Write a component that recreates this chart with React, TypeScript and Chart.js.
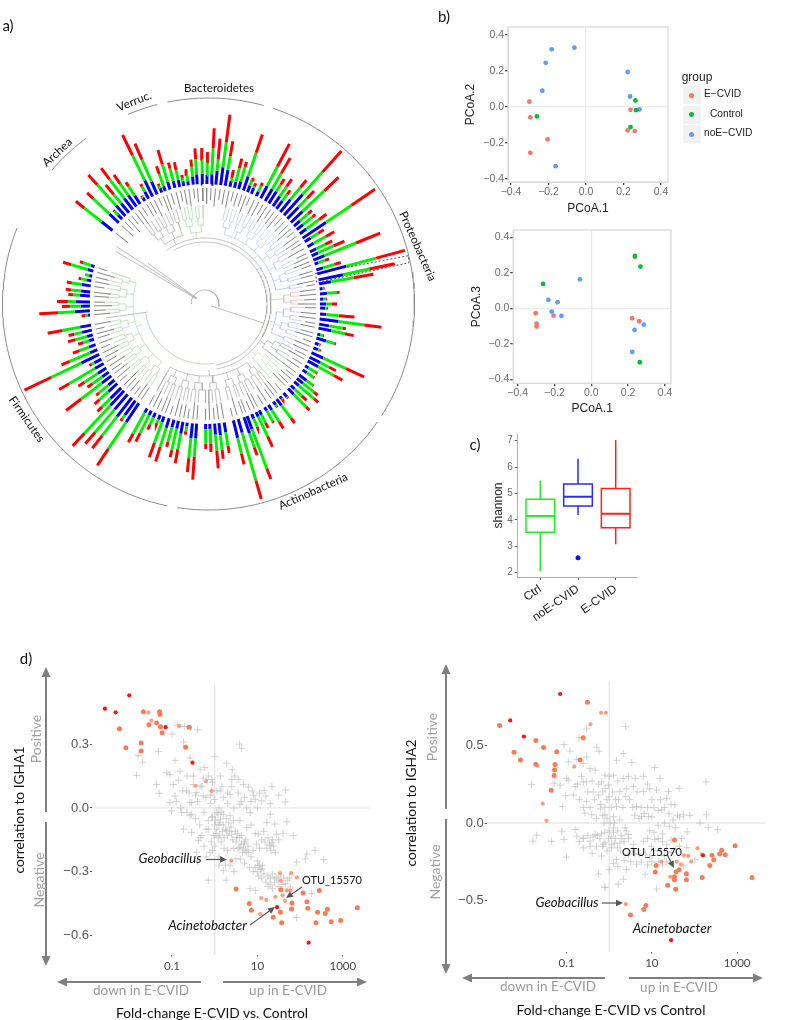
import React, { useEffect, useRef } from "react";
import { Chart, registerables } from "chart.js";
Chart.register(...registerables);

// ---------- panel a: circular tree with stacked bars ----------
const barAngles = [0.9,3,5.2,7.5,9.7,12,14.2,16.3,18.7,20.8,
  22.8,25.4,27.8,30.3,32.4,34.8,36.9,39.3,41.7,44,
  46.5,48.8,51,53.5,56,58,60.8,63.6,65.7,68,
  70,73,75,78,80,82.5,85,87.6,90,92,
  95,97.5,100,102,105,107,109.6,112,114.6,117,
  119,121.7,124,127,129,131,133.5,135.5,138.6,141,
  143,145,147.8,150,153,154.7,157,159.4,161,163.9,
  166.3,170.8,173.3,175.4,177.7,179.7,184,186,188.5,190.6,
  192.8,195,197.4,200,202,204.5,206.7,209,213.7,215.8,
  218,220.6,223,225,227.8,230,232.5,234.7,237,239.6,
  242,244.5,247,249.6,252.4,254.6,257,259.5,264.5,266.6,
  269,271,274,276,279,281.5,283.8,286.4,288.7,308.5,
  313.3,315.7,317.9,320.2,322.6,324.8,327,329.7,331.8,334,
  336.4,338.8,340.6,343,345.5,347.8,349.8,352,354.4,356.3,358.8];
const blueLen = [9,10,14,18,16,6,6,8,15,7,
  6,5,14,14,14,12,10,16,28,16,
  16,8,8,8,28,7,7,7,7,12,
  4,7,30,25,12,3,7,3,6,5,
  6,19,10,13,3,10,4,5,13,12,
  12,4,5,9,8,6,5,8,5,3,
  8,4,6,4,5,5,5,14,17,14,
  18,10,12,11,5,5,15,15,4,12,
  8,8,10,6,5,5,5,5,23,18,
  24,20,20,15,12,8,12,8,10,10,
  8,20,8,7,5,6,10,11,2,15,
  9,14,10,9,9,5,3,6,4,14,
  13,6,14,12,14,14,10,4,8,18,
  14,5,5,8,7,7,5,4,8,10,10];
const greenLen = [13,26,11,25,14,3,14,15,25,6,
  2,6,22,18,8,12,8,16,30,12,
  30,11,12,16,31,9,14,10,17,34,
  7,12,31,27,23,1,10,3,6,2,
  13,26,14,14,3,9,1,2,25,10,
  18,9,8,8,14,20,10,18,1,1,
  16,2,14,12,9,22,9,42,15,50,
  16,14,15,16,15,15,18,20,5,16,
  22,15,20,22,4,8,20,24,32,4,
  24,30,38,12,12,12,26,12,16,30,
  3,33,22,10,6,12,8,18,3,17,
  11,8,7,10,10,5,3,17,8,22,
  22,5,28,12,24,14,11,1,6,28,
  24,2,13,18,13,10,3,7,10,15,15];
const barTips = [152,176,166,191,165,137,150,148,179,135,
  131,134,181,169,148,152,142,160,205,157,
  184,142,142,151,205,140,148,142,153,189,
  132,142,207,194,171,120,135,120,132,122,
  150,178,143,152,122,137,120,123,175,147,
  157,132,132,135,145,150,140,149,124,123,
  149,124,147,137,139,158,133,187,160,203,
  165,151,156,165,148,145,176,169,132,162,
  157,148,165,163,130,138,154,158,194,144,
  183,184,194,152,149,142,175,144,151,169,
  131,200,156,141,133,142,140,160,124,166,
  143,148,137,140,140,129,121,148,132,165,
  162,131,174,155,171,158,145,122,136,188,
  175,129,146,161,146,145,131,136,145,156,156];
const labelLens = [16,12,18,11,15,17,10,14,13,18,9,16];
const cladeFrom = [322,345,12,82,91,115,128,141,212];
const cladeTo = [345,360,82,91,115,128,141,212,292];
const cladeColors = ["#a8a8a8","#a5d5a5","#b8c2f2","#f2b0b0","#b8c2f2","#a8a8a8","#b9e8aa","#a8a8a8","#acd4ac"];
const arcFrom = [-35,-30,105,170];
const arcTo = [120,170,170,262];
const arcRadii = [66,62,66,60];
const arcTints = ["#a8a8a8","#a8a8a8","#a8a8a8","#acc2ac"];
const stemAngles = [108,300.5,303,305.5,262];
const stemInner = [6,10,10,10,58];
const stemOuter = [62,103,106,70,100];
const phylumFrom = [348.5,337,310.5,191.5,124.9,18.2];
const phylumTo = [375.6,345.6,323.5,291.7,188.7,122.8];
const boxDx = [110.7,203.3,204,111.7,110.7];
const boxDy = [30.7,48.3,41.3,21.3,30.7];

// ---------- panel b ----------
const eCvidX = [-0.302,-0.297,-0.205,-0.297,0.237,0.222,0.26];
const eCvidY2 = [0.028,-0.059,-0.181,-0.256,-0.017,-0.131,-0.135];
const eCvidY3 = [-0.028,-0.086,-0.041,-0.103,0.289,-0.056,-0.073];
const controlX = [-0.262,0.263,0.267,0.237];
const controlY2 = [-0.054,0.035,-0.019,-0.113];
const controlY3 = [0.137,-0.304,0.235,0.295];
const noEX = [-0.062,-0.183,-0.215,-0.233,-0.162,0.222,0.235,0.285];
const noEY2 = [0.328,0.319,0.244,0.089,-0.33,0.193,0.057,-0.015];
const noEY3 = [0.163,0.034,-0.019,0.047,-0.043,-0.246,-0.122,-0.092];
const pcoaTicks = [-0.4,-0.2,0,0.2,0.4];
const groupNames = ["E\u2212CVID","Control","noE\u2212CVID"];
const groupColors = ["#F8766D","#00BA38","#619CFF"];

// ---------- panel c ----------
const boxCategories = ["Ctrl","noE-CVID","E-CVID"];
const boxColors = ["#22ee22","#2a2aff","#ff2020"];
const whiskerLow = [2.08,4.21,3.11];
const q1s = [3.53,4.53,3.7];
const medians = [4.15,4.88,4.23];
const q3s = [4.78,5.36,5.19];
const whiskerHigh = [5.45,6.29,7.0];
const outlierX = [2];
const outlierY = [2.57];
const shannonTicks = [2,3,4,5,6,7];

// ---------- panel d (x is log10 fold-change) ----------
const leftGray: number[][] = [[.58,.30],[.63,.28],[0,.243],[.28,.21],[.41,.18],[-.23,.19],[-.34,.18],[.13,.15],[.4,.134],[.55,.134],[-.07,.134],[-.27,.14],[.67,.11],[.79,.098],[1.34,.1],[1.66,.084],[1.16,.083],[.91,.06],[1.2,.056],[1.65,.028],[1.1,.033],[.59,.017],[.95,.04],[-.07,.08],[.13,.08],[.36,.064],[-.27,.056],[-.42,.072],[-.58,.025],[-.54,-.03],[.83,-.022],[1.3,-.03],[1.69,-.065],[1.22,-.069],[1.41,-.076],[1.84,-.13],[1.45,-.123],[1.02,-.123],[1.34,-.162],[1.3,-.178],[.75,-.092],[.59,-.06],[.36,-.037],[.2,-.03],[.05,-.022],[-.07,-.045],[.13,-.053],[.28,-.107],[.4,-.123],[.52,-.139],[.67,-.193],[.75,-.209],[.59,-.185],[1.02,-.271],[1.1,-.287],[1.3,-.333],[1.41,-.326],[1.65,-.357],[1.77,-.372],[2.16,-.217],[2.35,-.2],[2.55,-.243],[1.92,-.255],[2.12,-.24],[.2,-.294],[.36,-.27],[-.15,-.34],[.27,-.34],[.83,-.38],[.95,-.388],[1.92,-.516],[2.27,-.403],[-.11,-.209],[-.34,-.139],
[-.87,.388],[-.7,.383],[-1.0,.347],[-.4,.368],[-.73,.31],[-1.32,.266],[-1.79,.246],[-1.69,.215],[-1.83,.153],[-.93,.224],[-.58,.235],[-1.12,.165],[-.81,.173],[-1.36,.11],[-1.3,.069],[-1.05,.157],[-.97,.11],[-.93,.056],[-1.05,.025],[-1.01,-.014],[-.77,-.022],[-.58,-.037],[-.54,.025],[-.73,-.1],[-.54,-.115],[-.42,-.209],[-.38,-.154],[-.34,.103],[-.5,.11],[-.66,.08],
[-.2,.05],[-.1,.02],[-.25,-.02],[-.15,-.06],[-.05,-.04],[.02,-.06],[.08,-.03],[.1,-.08],[.15,-.02],[.05,-.1],[-.02,-.13],[.12,-.13],[.2,-.08],[.25,-.1],[.3,-.13],[.35,-.11],[.42,-.15],[.5,-.16],[.55,-.19],[.62,-.17],[.7,-.16],[.72,-.2],[.78,-.18],[.65,-.21],[.45,-.19],[.5,-.24],[.3,-.2],[.9,-.2],[1.0,-.25],[1.05,-.27],[1.08,-.29],[1.12,-.27],[.95,-.28],[1.15,-.31],[1.25,-.32],[1.35,-.31],[1.4,-.35],[1.5,-.34],[1.6,-.36],[1.35,-.15],[1.28,-.17],[1.38,-.18],[1.25,-.14],[1.15,-.11],[.95,-.12],[.85,-.08],[.3,.02],[.2,.05],[.45,.0],[.55,.07],[.7,.05],[.85,.03],[.4,.1],[.05,.08],[-.05,.12],[-.4,.03],[-.45,.06],[-.6,.07],[-.3,.1],[-.15,.15],[-.5,.15],[-.65,.15],[-.75,.08],[-.85,.13],[-.9,.03],[-.8,.0],[-.65,-.02],[-.45,-.05],[-.35,-.08],[-.3,-.13],[-.25,-.18],[-.4,-.25],[-.2,-.23],[-.05,-.2],[.1,-.23],[.25,-.27],[.45,-.3],
[.0,-.08],[.03,-.12],[.08,-.14],[.12,-.07],[.18,-.11],[.22,-.14],[.27,-.05],[.33,-.07],[.38,-.09],[.44,-.06],[.48,-.11],[.53,-.12],[.58,-.14],[.63,-.13],[.68,-.17],[.73,-.15],[.8,-.21],[.85,-.23],[.6,-.24],[.7,-.26],[.82,-.28],[.9,-.3],[1.0,-.3],[1.03,-.32],[1.1,-.33],[1.2,-.35],[1.25,-.37],[1.3,-.36],[1.45,-.33],[1.55,-.32],[1.62,-.33],[1.7,-.34],[1.75,-.33],[1.5,-.37],[1.35,-.38],[1.22,-.19],[1.32,-.2],[1.42,-.21],[1.18,-.16],[1.1,-.15],[1.05,-.19],[.98,-.17],[1.5,-.15],[1.6,-.12],[-.1,.06],[0,.04],[.1,.0],[.17,.1],[.3,.07],[.47,.15],[.62,.03],[.75,.0],[.88,.08],[1.0,.0],[1.05,.07],[1.3,.02],[1.5,.06],[-.15,-.1],[-.08,-.16],[.0,-.18],[.15,-.16],[.22,-.19],[.1,-.27],[-.2,-.1]];
const leftOrange: number[][] = [[-1.67,.452],[-1.29,.453],[-1.28,.44],[-1.36,.4],[-1.54,.391],[-1.27,.382],[-.6,.379],[-1.23,.354],[-2.23,.372],[-1.72,.305],[-2.08,.283],[-1.72,.268],[-.68,.285],[.5,-.382],[.81,-.45],[.86,-.481],[1.37,-.514],[1.54,-.491],[1.57,-.54],[1.55,-.385],[1.81,-.447],[1.8,-.475],[2.07,-.4],[2.45,-.388],[2.16,-.441],[2.18,-.472],[2.41,-.491],[2.64,-.477],[2.59,-.497],[2.73,-.536],[2.95,-.53],[2.37,-.54],[3.34,-.47]];
const leftLight: number[][] = [[-1.55,.45],[-1.48,.411],[-.83,.386],[-.45,.104],[-.58,.378],[-.2,.126],[-.07,.08],[.39,-.248],[1.09,-.424],[1.21,-.433],[1.07,-.5],[1.42,-.419],[1.53,-.307],[1.79,-.307],[1.92,-.327],[1.55,-.343],[1.59,-.411],[1.69,-.388],[1.77,-.388],[1.65,-.438]];
const leftRed: number[][] = [[-2.57,.467],[-2.0,.53],[-2.32,.45],[-1.15,.38],[-.52,.213],[1.46,-.467],[2.2,-.634]];
const rightGray: number[][] = [[-1.82,.248],[-1.06,.505],[-.92,.463],[-.29,.488],[-.24,.461],[-.71,.548],[-.53,.605],[-.53,.425],[-.96,.393],[-.76,.41],[-.61,.382],[-1,.287],[-.96,.276],[-1.15,.244],[-1.29,.255],[-1.02,.176],[-.84,.18],[-.8,.234],[-.61,.265],[-.53,.265],[-.45,.35],[-.33,.34],[-.18,.265],[-.1,.223],[-.37,.2],[-.25,.18],[-.53,.138],[-1.09,.106],[-.41,.053],[-.1,.053],[-.57,.064],[-1.79,-.117],[-1.7,-.079],[-1.35,-.117],[-1.11,-.053],[-1.06,-.106],[-.8,-.042],[-.76,-.085],[-.61,-.096],[-.45,-.117],[-.33,-.074],[-.14,-.138],[-.61,-.16],[-.4,-.195],[-.18,-.212],[-1,-.219],[-.25,-.329],[-.1,-.414],
[.39,.62],[.33,.446],[.17,.403],[.53,.389],[1.07,.357],[2.27,.265],[1.64,.223],[1.19,.287],[.61,.287],[.33,.287],[.1,.308],[-.1,.308],[-.02,.244],[.25,.202],[.57,.234],[.8,.202],[1.11,.212],[1.39,.202],[1.35,.159],[1.54,.117],[1.23,.085],[.64,.106],[.17,.106],[.76,.042],[.92,.042],[1.74,.053],[1.89,.049],[2.28,.053],[2.13,0],[2.32,-.028],[2.54,-.042],[1.83,-.057],[1.41,-.021],[1.15,-.015],[.1,-.032],[.37,-.032],[.45,-.074],[.06,-.138],[-.1,-.127],[.17,-.234],[.64,-.265],[.84,-.329],[1.11,-.425],[.33,-.361],[.21,-.393],[-.1,-.414],[1.07,-.106],[.8,-.117],[.57,-.138],[.99,-.149],[1.82,-.159],[2.01,-.234],[1.74,-.276],
[-.2,.12],[-.05,.15],[.05,.1],[.15,.15],[-.15,.05],[-.05,.03],[.1,.04],[.25,.02],[-.3,.03],[-.45,.1],[-.6,.1],[-.7,.15],[-.35,.15],[-.25,.25],[.2,-.05],[.28,-.08],[.3,-.1],[.1,-.06],[.35,-.12],[.4,-.05],[.45,-.1],[.15,-.1],[.25,-.13],[.05,-.16],[-.05,-.18],[-.15,-.15],[-.3,-.15],[-.45,-.15],[-.6,-.1],[-.7,-.12],[-.5,-.08],[.45,-.2],[.35,-.24],[.55,-.18],[.7,-.2],[.85,-.2],[.95,-.22],[1.05,-.18],[1.2,-.18],[1.3,-.21],[1.45,-.19],[1.55,-.17],[.9,-.1],[.75,-.25],[.75,.1],[.9,.1],[.55,.1],[.65,.2],[.4,.22],[.9,.25],[1.2,.15],[1.45,.12],[1.6,.05],[1.65,.04],[1.0,.04],[1.3,.0],[1.55,-.03],[1.25,-.07],
[.0,-.05],[.05,-.09],[.12,-.13],[.2,-.16],[.27,-.18],[-.1,-.06],[-.02,-.1],[-.18,-.07],[-.22,-.1],[-.28,-.08],[-.38,-.09],[.02,.0],[.12,.0],[-.12,.0],[-.2,.09],[-.1,.1],[0,.17],[.08,.2],[.22,.15],[.32,.1],[.38,.17],[.48,.15],[.6,.05],[.7,.03],[.82,.06],[1.0,.15],[1.05,.1],[1.15,.08],[1.3,.1],[1.4,.06],[1.5,.02],[.95,-.05],[1.05,-.06],[1.15,-.1],[1.25,-.12],[1.35,-.14],[1.45,-.11],[1.65,-.15],[1.7,-.1],[1.0,-.25],[1.15,-.25],[1.25,-.27],[1.35,-.25],[.9,-.27],[.6,-.2],[.5,-.25],[.4,-.3],[.2,-.28],[.1,-.26],[0,-.3],[.45,.3],[.2,.27],[.0,.3],[-.15,.2],[-.4,.27],[-.5,.2],[-.65,.3],[-.75,.25],[.8,.3],[.95,.22]];
const rightOrange: number[][] = [[-2.57,.628],[-.51,.777],[-.61,.548],[-1.72,.531],[-1.54,.486],[-1.23,.459],[-2.23,.456],[-2.08,.406],[-1.72,.378],[-1.27,.376],[-1.28,.342],[-1.29,.306],[-.68,.406],[-1.36,.21],[1.53,-.11],[2.95,-.146],[2.41,-.208],[2.64,-.176],[2.59,-.2],[2.72,-.204],[2.45,-.238],[2.36,-.274],[1.1,-.274],[1.08,-.316],[1.64,-.301],[1.57,-.314],[1.81,-.327],[1.81,-.365],[2.18,-.35],[3.35,-.35],[1.53,-.346],[1.53,-.365],[1.37,-.401],[1.56,-.427],[.5,-.592],[.81,-.556],[.86,-.531]];
const rightLight: number[][] = [[-.19,.709],[-.08,.709],[-.44,.635],[-1.68,.369],[-.82,.363],[-1.56,.125],[-1.47,.015],[2.07,-.163],[2.17,-.202],[1.75,-.208],[1.85,-.212],[1.68,-.268],[1.58,-.248],[1.92,-.248],[1.22,-.248],[1.43,-.346],[.39,-.522]];
const rightRed: number[][] = [[-2.32,.66],[-1.15,.83],[-2,.556],[2.2,-.208],[1.45,-.754]];
const foldTicks = [-1,1,3];
const foldLabels = ["0.1","10","1000"];
const leftCorrTicks = [0.3,0,-0.3,-0.6];
const rightCorrTicks = [0.5,0,-0.5];

// ---------- helpers ----------
const SANS = "'Liberation Sans', Arial, sans-serif";
const CAL = "Lato, 'Open Sans', sans-serif";
const GAP = { x: NaN, y: NaN };
const rad = (d: number) => (d * Math.PI) / 180;
const polar = (a: number, r: number, ox = 0) => ({ x: ox + r * Math.sin(rad(a)), y: r * Math.cos(rad(a)) });
const baseRadius = (a: number) => 115 + 5 * Math.abs(Math.cos(rad(a)));
const seg = (a: number, r0: number, r1: number) => [polar(a, r0), polar(a, r1), GAP];
const arc = (a0: number, a1: number, r: number, ox = 0) => {
  const pts = [];
  for (let a = a0; a < a1; a += 1.5) pts.push(polar(a, r, ox));
  pts.push(polar(a1, r, ox), GAP);
  return pts;
};
const lineDs = (data: any[], color: string, width: number, extra: any = {}) => ({
  type: "scatter", data, showLine: true, pointRadius: 0, borderColor: color, borderWidth: width,
  borderCapStyle: "butt", spanGaps: false, ...extra,
});
const ptsOf = (xs: number[], ys: number[]) => xs.map((x, i) => ({ x, y: ys[i] }));
const pairs = (a: number[][]) => a.map(([x, y]) => ({ x, y }));

function PlotCanvas({ box, build }: { box: any; build: (b: any) => any }) {
  const ref = useRef<HTMLCanvasElement>(null);
  useEffect(() => {
    const c = new Chart(ref.current as any, build(box));
    return () => c.destroy();
  }, []);
  return (
    <canvas ref={ref} width={box.W} height={box.H}
      style={{ position: "absolute", left: box.L, top: box.T, width: box.W, height: box.H }} />
  );
}

const baseOptions = (b: any) => ({
  responsive: false, animation: false, devicePixelRatio: 1,
  layout: { padding: { top: b.pT - b.T, right: b.L + b.W - b.pR, left: 0, bottom: 0 } },
  plugins: { legend: { display: false }, tooltip: { enabled: false } },
});
const fixX = (b: any) => (s: any) => { s.height = b.T + b.H - b.pB; };
const fixY = (b: any) => (s: any) => { s.width = b.pL - b.L; };
const setTicks = (vals: number[]) => (s: any) => { s.ticks = vals.map((value) => ({ value })); };
const minus = (t: string) => t.replace("-", "\u2212");

// ---------- panel a config ----------
function buildTree(b: any) {
  const blue: any[] = [], green: any[] = [], red: any[] = [], labels: any[] = [];
  const tree: Record<string, any[]> = {};
  const add = (color: string, pts: any[]) => { (tree[color] = tree[color] || []).push(...pts); };
  barAngles.forEach((a, i) => {
    const b0 = baseRadius(a);
    const bE = b0 + blueLen[i];
    const gE = bE + greenLen[i];
    blue.push(...seg(a, b0, bE));
    green.push(...seg(a, bE, gE));
    red.push(...seg(a, gE, Math.max(barTips[i], gE + 1)));
    const lTop = b0 - 4;
    labels.push(...seg(a, lTop, lTop - labelLens[i % labelLens.length]));
  });
  cladeFrom.forEach((from, k) => {
    const to = cladeTo[k];
    const color = cladeColors[k];
    const leaves = barAngles.filter((a) => a >= from && a < to);
    const pairMids: number[] = [];
    for (let i = 0; i < leaves.length; i += 2) {
      const a0 = leaves[i];
      const a1 = leaves[Math.min(i + 1, leaves.length - 1)];
      add(color, seg(a0, 86, 99));
      add(color, seg(a1, 86, 99));
      add(color, arc(a0, a1, 86));
      pairMids.push((a0 + a1) / 2);
    }
    const groupMids: number[] = [];
    for (let i = 0; i < pairMids.length; i += 2) {
      const a0 = pairMids[i];
      const a1 = pairMids[Math.min(i + 1, pairMids.length - 1)];
      add(color, seg(a0, 79, 86));
      add(color, seg(a1, 79, 86));
      add(color, arc(a0, a1, 79));
      groupMids.push((a0 + a1) / 2);
    }
    groupMids.forEach((a) => add(color, seg(a, 72, 79)));
    if (groupMids.length) {
      add(color, arc(groupMids[0], groupMids[groupMids.length - 1], 72));
      add(color, seg((groupMids[0] + groupMids[groupMids.length - 1]) / 2, 66, 72));
    }
  });
  arcFrom.forEach((a0, i) => add(arcTints[i], arc(a0, arcTo[i], arcRadii[i])));
  stemAngles.forEach((a, i) => add("#a0a0a0", seg(a, stemInner[i], stemOuter[i])));
  add("#a0a0a0", arc(-90, 100, 14));
  const phyla: any[] = [];
  phylumFrom.forEach((a0, i) => phyla.push(...arc(a0, phylumTo[i], 206, 3.5)));
  return {
    type: "scatter",
    data: {
      datasets: [
        lineDs(ptsOf(boxDx, boxDy), "#222222", 0.8, { borderDash: [2, 2] }),
        lineDs(red, "#ff0000", 3),
        lineDs(green, "#00ee00", 3),
        lineDs(blue, "#0000ee", 3),
        lineDs(labels, "#858585", 1),
        ...Object.keys(tree).map((c) => lineDs(tree[c], c, 0.7)),
        lineDs(phyla, "#8a8a8a", 1),
      ],
    },
    options: {
      ...baseOptions(b),
      layout: { padding: 0 },
      scales: {
        x: { display: false, type: "linear", min: -205, max: 235 },
        y: { display: false, type: "linear", min: -226, max: 304 },
      },
    },
  };
}

// ---------- panel b config ----------
function buildPcoa(yE: number[], yC: number[], yN: number[], xr: number[], yr: number[], yTitle: string) {
  return (b: any) => ({
    type: "scatter",
    data: {
      datasets: [
        { data: ptsOf(controlX, yC), backgroundColor: groupColors[1], pointRadius: 2.4, borderWidth: 0 },
        { data: ptsOf(noEX, yN), backgroundColor: groupColors[2], pointRadius: 2.4, borderWidth: 0 },
        { data: ptsOf(eCvidX, yE), backgroundColor: groupColors[0], pointRadius: 2.4, borderWidth: 0 },
      ],
    },
    options: {
      ...baseOptions(b),
      scales: {
        x: {
          type: "linear", min: xr[0], max: xr[1], afterFit: fixX(b), afterBuildTicks: setTicks(pcoaTicks),
          grid: { color: (c: any) => (c.tick.value === 0 ? "#ebebeb" : "transparent"), lineWidth: 1.3, tickColor: "#444", tickLength: 3, drawTicks: true },
          border: { color: "#dddddd", width: 1 },
          ticks: { autoSkip: false, maxRotation: 0, padding: 1, color: "#6a6a6a", font: { family: SANS, size: 10.5 }, callback: (v: number) => minus(v.toFixed(1)) },
          title: { display: true, text: "PCoA.1", color: "#222", font: { family: SANS, size: 12 }, padding: 0 },
        },
        y: {
          type: "linear", min: yr[0], max: yr[1], afterFit: fixY(b), afterBuildTicks: setTicks(pcoaTicks),
          grid: { color: (c: any) => (c.tick.value === 0 ? "#ebebeb" : "transparent"), lineWidth: 1.3, tickColor: "#444", tickLength: 3, drawTicks: true },
          border: { color: "#dddddd", width: 1 },
          ticks: { autoSkip: false, padding: 1, color: "#6a6a6a", font: { family: SANS, size: 10.5 }, callback: (v: number) => minus(v.toFixed(1)) },
          title: { display: true, text: yTitle, color: "#222", font: { family: SANS, size: 12 }, padding: 0 },
        },
      },
    },
    plugins: [{
      id: "frame",
      afterDraw(c: any) {
        const { left, top, width, height } = c.chartArea;
        c.ctx.save();
        c.ctx.strokeStyle = "#dcdcdc";
        c.ctx.lineWidth = 1.4;
        c.ctx.strokeRect(left, top, width, height);
        c.ctx.restore();
      },
    }],
  });
}

// ---------- panel c config ----------
function buildBoxes(b: any) {
  const hw = 0.38;
  const datasets: any[] = [];
  boxCategories.forEach((_, i) => {
    const x = i + 1;
    const color = boxColors[i];
    datasets.push(lineDs([{ x: x - hw, y: medians[i] }, { x: x + hw, y: medians[i] }], color, 2));
    datasets.push(lineDs([
      { x: x - hw, y: q1s[i] }, { x: x + hw, y: q1s[i] }, { x: x + hw, y: q3s[i] },
      { x: x - hw, y: q3s[i] }, { x: x - hw, y: q1s[i] }, GAP,
      { x, y: whiskerLow[i] }, { x, y: q1s[i] }, GAP,
      { x, y: q3s[i] }, { x, y: whiskerHigh[i] },
    ], color, 1.5, { borderCapStyle: "square" }));
  });
  datasets.push({ data: ptsOf(outlierX, outlierY), backgroundColor: "#1010ff", pointRadius: 2.5, borderWidth: 0 });
  return {
    type: "scatter",
    data: { datasets },
    options: {
      ...baseOptions(b),
      scales: {
        x: {
          type: "linear", min: 0.4, max: 3.584, afterFit: fixX(b), afterBuildTicks: setTicks([1, 2, 3]),
          grid: { drawOnChartArea: false, tickColor: "#555", tickLength: 3 },
          border: { color: "#b0b0b0", width: 1 },
          ticks: { autoSkip: false, minRotation: 35, maxRotation: 35, padding: 2, color: "#222", font: { family: SANS, size: 12 }, callback: (v: number) => boxCategories[v - 1] },
        },
        y: {
          type: "linear", min: 1.837, max: 7.254, afterFit: fixY(b), afterBuildTicks: setTicks(shannonTicks),
          grid: { drawOnChartArea: false, tickColor: "#555", tickLength: 3 },
          border: { color: "#b0b0b0", width: 1 },
          ticks: { autoSkip: false, padding: 2, color: "#6a6a6a", font: { family: SANS, size: 10 }, callback: (v: number) => String(v) },
          title: { display: true, text: "shannon", color: "#222", font: { family: SANS, size: 12 }, padding: 0 },
        },
      },
    },
  };
}

// ---------- panel d config ----------
function buildVolcano(gray: number[][], orange: number[][], light: number[][], red: number[][], xr: number[], yr: number[], corrTicks: number[]) {
  return (b: any) => ({
    type: "scatter",
    data: {
      datasets: [
        { data: pairs(red), backgroundColor: "#ff1414", pointRadius: 2.1, borderWidth: 0 },
        { data: pairs(orange), backgroundColor: "#f67d57", pointRadius: 2.5, borderWidth: 0 },
        { data: pairs(light), backgroundColor: "#fa9f80", pointRadius: 2.1, borderWidth: 0 },
        { data: pairs(gray), pointStyle: "cross", pointRadius: 3.6, borderColor: "rgba(195,195,195,0.75)", borderWidth: 1 },
        lineDs([{ x: 0, y: yr[0] }, { x: 0, y: yr[1] }], "#e8e8e8", 1.3),
        lineDs([{ x: xr[0], y: 0 }, { x: xr[1], y: 0 }], "#e8e8e8", 1.3),
      ],
    },
    options: {
      ...baseOptions(b),
      scales: {
        x: {
          type: "linear", min: xr[0], max: xr[1], afterFit: fixX(b), afterBuildTicks: setTicks(foldTicks),
          grid: { drawOnChartArea: false, tickColor: "#555", tickLength: 1.5 },
          border: { display: false },
          ticks: { autoSkip: false, maxRotation: 0, padding: 3, color: "#444", font: { family: CAL, size: 11.5 }, callback: (v: number) => foldLabels[foldTicks.indexOf(v)] },
        },
        y: {
          type: "linear", min: yr[0], max: yr[1], afterFit: fixY(b), afterBuildTicks: setTicks(corrTicks),
          grid: { drawOnChartArea: false, tickColor: "#555", tickLength: 2 },
          border: { display: false },
          ticks: { autoSkip: false, padding: 1, color: "#555", font: { family: SANS, size: 13 }, callback: (v: number) => minus(v.toFixed(1)) },
        },
      },
    },
  });
}

// ---------- overlay text + arrows ----------
function T({ x, y, s, c = "#111", f = CAL, r = 0, i = false, children }: any) {
  return (
    <div style={{
      position: "absolute", left: x, top: y, transform: `translate(-50%,-50%) rotate(${r}deg)`,
      fontFamily: f, fontSize: s, color: c, fontStyle: i ? "italic" : "normal", whiteSpace: "nowrap", lineHeight: 1,
    }}>{children}</div>
  );
}
function Arrow({ a, b, w = 2, h = 4.5, l = 10, c = "#7f7f7f" }: any) {
  const ang = Math.atan2(b[1] - a[1], b[0] - a[0]);
  const bx = b[0] - l * Math.cos(ang), by = b[1] - l * Math.sin(ang);
  const nx = -Math.sin(ang) * h, ny = Math.cos(ang) * h;
  return (
    <g>
      <line x1={a[0]} y1={a[1]} x2={bx} y2={by} stroke={c} strokeWidth={w} />
      <polygon points={`${b[0]},${b[1]} ${bx + nx},${by + ny} ${bx - nx},${by - ny}`} fill={c} />
    </g>
  );
}

const treeBox = { L: 0, T: 0, W: 440, H: 530, pL: 0, pT: 0, pR: 440, pB: 530 };
const pcoa1Box = { L: 463, T: 15, W: 215, H: 201, pL: 508, pT: 27, pR: 668, pB: 182 };
const pcoa2Box = { L: 469, T: 220, W: 212, H: 196, pL: 513.3, pT: 230, pR: 671, pB: 383.3 };
const shannonBox = { L: 491, T: 425, W: 155, H: 210, pL: 517.7, pT: 434, pR: 637.7, pB: 577 };
const leftBox = { L: 50, T: 675, W: 330, H: 300, pL: 92, pT: 682, pR: 370, pB: 955 };
const rightBox = { L: 445, T: 672, W: 330, H: 298, pL: 486.7, pT: 678, pR: 765.7, pB: 952 };

const dR = "#555555";

export default function App() {
  return (
    <div style={{ position: "absolute", left: 0, top: 0, width: 800, height: 1020, overflow: "hidden", background: "#fff" }}>
      <PlotCanvas box={treeBox} build={buildTree} />
      <PlotCanvas box={pcoa1Box} build={buildPcoa(eCvidY2, controlY2, noEY2, [-0.416, 0.437], [-0.418, 0.443], "PCoA.2")} />
      <PlotCanvas box={pcoa2Box} build={buildPcoa(eCvidY3, controlY3, noEY3, [-0.4235, 0.4327], [-0.4225, 0.441], "PCoA.3")} />
      <PlotCanvas box={shannonBox} build={buildBoxes} />
      <PlotCanvas box={leftBox} build={buildVolcano(leftGray, leftOrange, leftLight, leftRed, [-2.873, 3.637], [-0.692, 0.584], leftCorrTicks)} />
      <PlotCanvas box={rightBox} build={buildVolcano(rightGray, rightOrange, rightLight, rightRed, [-2.872, 3.669], [-0.83, 0.915], rightCorrTicks)} />

      <svg width={800} height={1020} style={{ position: "absolute", left: 0, top: 0, pointerEvents: "none" }}>
        <Arrow a={[46, 812]} b={[46, 667]} />
        <Arrow a={[46, 822]} b={[46, 966]} />
        <Arrow a={[201, 982]} b={[57, 982]} />
        <Arrow a={[223, 982]} b={[367, 982]} />
        <Arrow a={[446, 809]} b={[446, 664]} />
        <Arrow a={[446, 819]} b={[446, 974]} />
        <Arrow a={[605, 978]} b={[462, 978]} />
        <Arrow a={[629, 978]} b={[763, 978]} />
        <Arrow a={[206, 859.5]} b={[227, 859.5]} w={1.2} h={3.2} l={7} c={dR} />
        <Arrow a={[250, 925]} b={[275, 907]} w={1.2} h={3.2} l={7} c={dR} />
        <Arrow a={[302, 887]} b={[286, 898]} w={1.2} h={3.2} l={7} c={dR} />
        <Arrow a={[667, 854]} b={[674, 868]} w={1.2} h={3.2} l={7} c={dR} />
        <Arrow a={[602, 903]} b={[623, 903]} w={1.2} h={3.2} l={7} c={dR} />
      </svg>

      <T x={8} y={25} s={15}>a)</T>
      <T x={444} y={16} s={15}>b)</T>
      <T x={475} y={444} s={15}>c)</T>
      <T x={26} y={658} s={15}>d)</T>

      <T x={219} y={88} s={11.6}>Bacteroidetes</T>
      <T x={134} y={101} s={11.6} r={-22}>Verruc.</T>
      <T x={57} y={152} s={11.6} r={-43}>Archea</T>
      <T x={418} y={246} s={11.6} r={66}>Proteobacteria</T>
      <T x={27} y={419} s={11.6} r={55}>Firmicutes</T>
      <T x={313} y={491} s={11.6} r={-24}>Actinobacteria</T>

      <T x={682} y={77} s={12} f={SANS} c="#222"><span style={{ position: "relative", left: 15 }}>group</span></T>
      {groupNames.map((name, i) => {
        const y = [95, 114.5, 134][i];
        return (
          <React.Fragment key={name}>
            <div style={{ position: "absolute", left: 683, top: y - 9, width: 18, height: 18, background: "#f2f2f2" }} />
            <div style={{ position: "absolute", left: 689.2, top: y - 2.5, width: 5, height: 5, borderRadius: "50%", background: groupColors[i] }} />
            <div style={{ position: "absolute", left: i === 1 ? 710 : 704, top: y - 6, fontFamily: SANS, fontSize: 10.2, lineHeight: 1, color: "#222", whiteSpace: "nowrap" }}>{name}</div>
          </React.Fragment>
        );
      })}

      <T x={18.5} y={810} s={13.8} r={-90}>correlation to IGHA1</T>
      <T x={36} y={739} s={14} c="#a0a0a0" r={-90}>Positive</T>
      <T x={38.5} y={880} s={14} c="#a0a0a0" r={-90}>Negative</T>
      <T x={141} y={991} s={13.5} c="#999">down in E-CVID</T>
      <T x={288} y={991} s={13.5} c="#999">up in E-CVID</T>
      <T x={212} y={1013} s={13.8}>Fold-change E-CVID vs. Control</T>
      <T x={170} y={859} s={13.2} i>Geobacillus</T>
      <T x={207.5} y={926} s={13.5} i>Acinetobacter</T>
      <T x={332} y={879} s={11} >OTU_15570</T>

      <T x={411} y={803} s={13.8} r={-90}>correlation to IGHA2</T>
      <T x={432} y={737} s={14} c="#a0a0a0" r={-90}>Positive</T>
      <T x={435} y={872} s={14} c="#a0a0a0" r={-90}>Negative</T>
      <T x={548} y={987} s={13.5} c="#999">down in E-CVID</T>
      <T x={679} y={988} s={13.5} c="#999">up in E-CVID</T>
      <T x={611} y={1010} s={13.8}>Fold-change E-CVID vs Control</T>
      <T x={567} y={903} s={13.2} i>Geobacillus</T>
      <T x={672} y={929} s={13.5} i>Acinetobacter</T>
      <T x={652} y={851} s={11}>OTU_15570</T>
    </div>
  );
}
